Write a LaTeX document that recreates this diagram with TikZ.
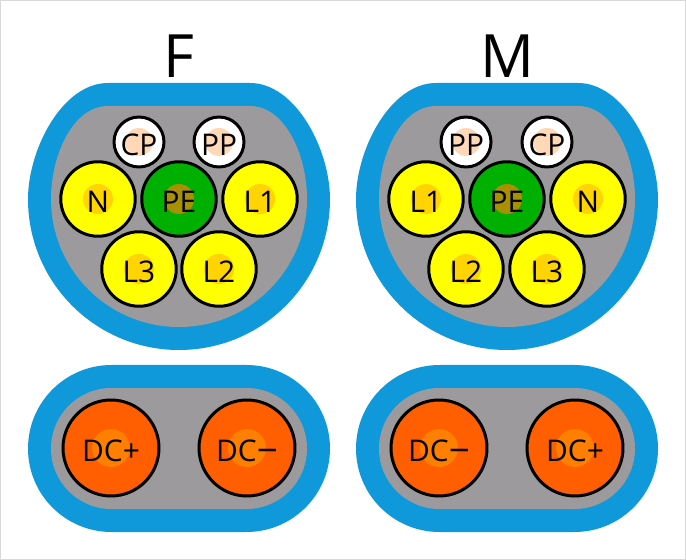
\documentclass[tikz,border=0pt]{standalone}
\usepackage{fontspec}
\setmainfont{Open Sans}
\definecolor{shellblue}{HTML}{0F99DB}
\definecolor{facegray}{HTML}{9C9A9C}
\definecolor{pinyellow}{HTML}{FFFF00}
\definecolor{dotyellow}{HTML}{FFD400}
\definecolor{pingreen}{HTML}{00B000}
\definecolor{dotgreen}{HTML}{A89000}
\definecolor{pinorange}{HTML}{FF5F00}
\definecolor{dotorange}{HTML}{FF7F00}
\definecolor{dotwhite}{HTML}{FFD8B8}
\definecolor{framegray}{HTML}{D8D8D8}
\newcommand{\acshell}[1]{
  \fill[shellblue] (#1+28,199) arc (180:0:151)
    .. controls (#1+330,150) and (#1+296,83) .. (#1+250,83)
    -- (#1+108,83)
    .. controls (#1+62,83) and (#1+28,150) .. (#1+28,199) -- cycle;
  \fill[facegray] (#1+51,199) arc (180:0:128)
    .. controls (#1+307,155) and (#1+285,106) .. (#1+250,106)
    -- (#1+108,106)
    .. controls (#1+73,106) and (#1+51,155) .. (#1+51,199) -- cycle;
}
\newcommand{\dcshell}[1]{
  \fill[shellblue] (#1+111.5,365) arc (-90:-270:83.5) -- (#1+246.5,532)
    arc (90:-90:83.5) -- cycle;
  \fill[facegray] (#1+111.5,388) arc (-90:-270:60.5) -- (#1+246.5,509)
    arc (90:-90:60.5) -- cycle;
}
\newcommand{\dcminus}{\raisebox{-1.4pt}{\fontsize{21}{21}\selectfont−}}
\tikzset{
  x=0.02cm, y=-0.02cm,
  pin/.style 2 args={circle, draw=black, line width=1.7pt, inner sep=0pt,
    fill=#1, text height=15pt, text depth=0pt,
    path picture={\fill[#2] (path picture bounding box.center) circle (\dotsize);}},
  signal/.style={pin={white}{dotwhite}, minimum size=1.0cm,
    font=\fontsize{17}{17}\selectfont, /utils/exec={\def\dotsize{0.28cm}}},
  phase/.style={pin={pinyellow}{dotyellow}, minimum size=1.49cm,
    font=\fontsize{17}{17}\selectfont, /utils/exec={\def\dotsize{0.30cm}}},
  earth/.style={pin={pingreen}{dotgreen}, minimum size=1.49cm,
    font=\fontsize{17}{17}\selectfont, /utils/exec={\def\dotsize{0.30cm}}},
  dcpin/.style={pin={pinorange}{dotorange}, minimum size=1.92cm,
    font=\fontsize{17}{17}\selectfont, /utils/exec={\def\dotsize{0.38cm}}},
  heading/.style={anchor=base, inner sep=0pt, font=\fontsize{34}{34}\selectfont}
}

\begin{document}
\begin{tikzpicture}
  \useasboundingbox (0,0) rectangle (686,560);
  \draw[framegray, line width=1pt] (0,0) rectangle (686,560);

  \acshell{0}
  \acshell{328}
  \dcshell{0}
  \dcshell{328}

  % female side
  \node[heading] (titleF) at (179,78) {F};
  \node[signal] (fCP) at (139,142) {CP};
  \node[signal] (fPP) at (219,142) {PP};
  \node[phase] (fN) at (98,199) {N};
  \node[earth] (fPE) at (179,199) {PE};
  \node[phase] (fL1) at (260,199) {L1};
  \node[phase] (fL3) at (139,269) {L3};
  \node[phase] (fL2) at (219,269) {L2};
  \node[dcpin] (fDCp) at (111,448) {DC+};
  \node[dcpin] (fDCm) at (247,448) {DC\dcminus};

  % male side
  \node[heading] (titleM) at (507,78) {M};
  \node[signal] (mPP) at (466,142) {PP};
  \node[signal] (mCP) at (547,142) {CP};
  \node[phase] (mL1) at (426,199) {L1};
  \node[earth] (mPE) at (507,199) {PE};
  \node[phase] (mN) at (588,199) {N};
  \node[phase] (mL2) at (466,269) {L2};
  \node[phase] (mL3) at (547,269) {L3};
  \node[dcpin] (mDCm) at (439,448) {DC\dcminus};
  \node[dcpin] (mDCp) at (575,448) {DC+};
\end{tikzpicture}
\end{document}
